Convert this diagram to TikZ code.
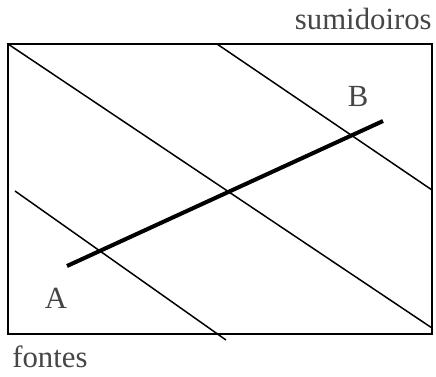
\documentclass[tikz,border=0pt]{standalone}
\usepackage{fontspec}
\setmainfont{Liberation Serif}
\usepackage{xcolor}
\definecolor{labelgray}{RGB}{70,70,70}

\begin{document}
\begin{tikzpicture}[
    frame/.style={draw=black, line width=1.1pt},
    flowline/.style={draw=black, line width=0.85pt},
    section/.style={draw=black, line width=2.3pt},
    lab/.style={font=\fontsize{17.5}{20}\selectfont, text=labelgray, inner sep=0pt}
]
    \useasboundingbox (0,0) rectangle (8.72,7.52);

    % Domain
    \draw[frame] (0.16,0.84) rectangle (8.64,6.64);

    % Equipotential lines
    \draw[flowline] (0.16,6.64) -- (8.64,0.96);
    \draw[flowline] (4.34,6.64) -- (8.64,3.72);
    \draw[flowline] (0.30,3.70) -- (4.52,0.72);

    % Section A--B
    \coordinate (pA) at (1.34,2.20);
    \coordinate (pB) at (7.66,5.10);
    \draw[section] (pA) -- (pB);

    % Labels
    \node[lab, anchor=base] (A) at (1.12,1.36) {A};
    \node[lab, anchor=base] (B) at (7.16,5.40) {B};
    \node[lab, anchor=base east] (sinks) at (8.64,6.94) {sumidoiros};
    \node[lab, anchor=base west] (sources) at (0.24,0.18) {fontes};
\end{tikzpicture}
\end{document}
